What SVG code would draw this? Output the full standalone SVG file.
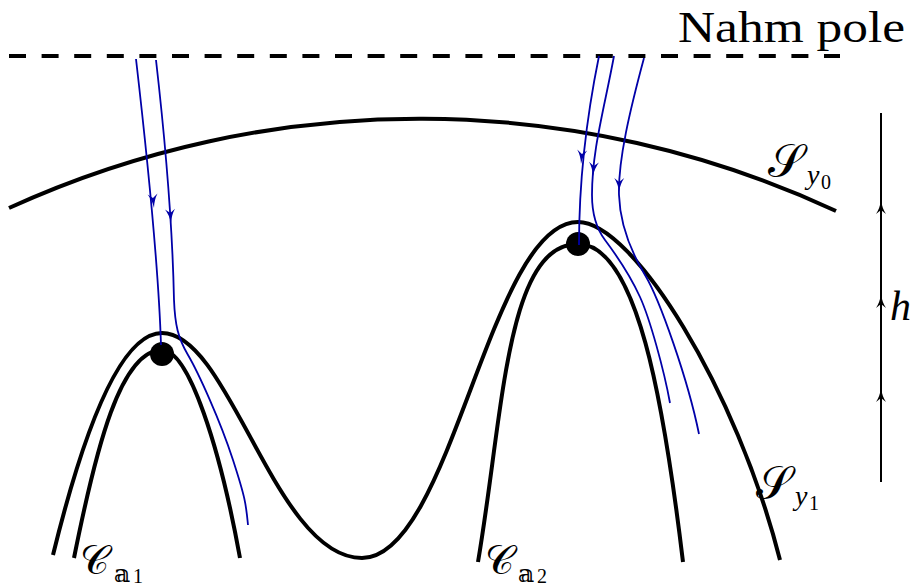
<svg xmlns="http://www.w3.org/2000/svg" width="917" height="588" viewBox="0 0 917 588">
<style>
.crv{fill:none;stroke:#000;stroke-width:4;stroke-linecap:butt}
.flow{fill:none;stroke:#0000a8;stroke-width:1.8}
.ah{fill:#0000a8}
.ahk{fill:#000}
.lbl{font-family:"DejaVu Serif","DejaVu Sans","Liberation Serif",serif;fill:#000}
.it{font-family:"Liberation Serif","DejaVu Serif",serif;font-style:italic;fill:#000}
.rm{font-family:"Liberation Serif","DejaVu Serif",serif;fill:#000}
</style>
<defs>
<path id="arr" d="M0,0 Q-1,-8 -5,-14 L0,-10 L5,-14 Q1,-8 0,0Z"/>
</defs>
<rect width="917" height="588" fill="#fff"/>

<g id="nahm-pole">
<line x1="9" y1="56" x2="840" y2="56" stroke="#000" stroke-width="4" stroke-dasharray="17 15.6"/>
<text class="rm" x="678" y="42" font-size="44" textLength="227" lengthAdjust="spacingAndGlyphs">Nahm pole</text>
</g>

<g id="S-y0">
<path class="crv" d="M9,208 A987,987 0 0 1 836,211"/>
<text class="lbl" x="768" y="177" font-size="46">𝒮</text>
<text class="it" x="807" y="184" font-size="28">y</text>
<text class="rm" x="821" y="189" font-size="20">0</text>
</g>

<g id="S-y1">
<path class="crv" d="M53,555 Q107.5,333 162,333 C230,333 275,558 362,558 C451.5,558 489.5,222 578,222 C633,222 737,390 780,560"/>
<text class="lbl" x="756" y="499" font-size="46">𝒮</text>
<text class="it" x="795" y="505" font-size="28">y</text>
<text class="rm" x="809" y="510" font-size="20">1</text>
</g>

<g id="C-a1">
<path class="crv" d="M74,558 C96,448 120.5,350 162,350 C189,350 220,448 240,558"/>
<circle cx="162" cy="354" r="12" fill="#000"/>
<text class="lbl" x="80" y="574" font-size="40">𝒞</text>
<text class="lbl" x="114" y="582" font-size="25">𝕒</text>
<text class="rm" x="133" y="583" font-size="20">1</text>
</g>

<g id="C-a2">
<path class="crv" d="M478,562 C503.5,412 506,244 578,244 C637,244 663.8,402 683,562"/>
<circle cx="578" cy="244" r="12" fill="#000"/>
<text class="lbl" x="485" y="574" font-size="40">𝒞</text>
<text class="lbl" x="518" y="582" font-size="25">𝕒</text>
<text class="rm" x="537" y="583" font-size="20">2</text>
</g>

<g id="h-axis">
<line x1="881" y1="113" x2="881" y2="482" stroke="#000" stroke-width="2"/>
<use href="#arr" class="ahk" transform="translate(881,200) rotate(180)"/>
<use href="#arr" class="ahk" transform="translate(881,294) rotate(180)"/>
<use href="#arr" class="ahk" transform="translate(881,388) rotate(180)"/>
<text class="it" x="890" y="320" font-size="42">h</text>
</g>

<g id="connectors">
<path class="flow" d="M136,59 Q158,250 161,345"/>
<path class="flow" d="M156,60 Q172,200 174,300 C175,325 178,338 188,355 S220,420 233,460 S246,505 248,525"/>
<path class="flow" d="M599,56 C588,110 579,170 579,245"/>
<path class="flow" d="M614,56 C604,110 592,150 592,195 C592,215 596,228 605,240 S630,275 640,297 S664,370 670,403"/>
<path class="flow" d="M644,58 C630,110 618,160 619,195 C620,225 630,250 645,275 S688,380 699,434"/>
<use href="#arr" class="ah" transform="translate(154,208) rotate(-6)"/>
<use href="#arr" class="ah" transform="translate(171,223) rotate(-4)"/>
<use href="#arr" class="ah" transform="translate(581,164) rotate(5)"/>
<use href="#arr" class="ah" transform="translate(593,176) rotate(4)"/>
<use href="#arr" class="ah" transform="translate(619,192) rotate(1)"/>
</g>
</svg>
